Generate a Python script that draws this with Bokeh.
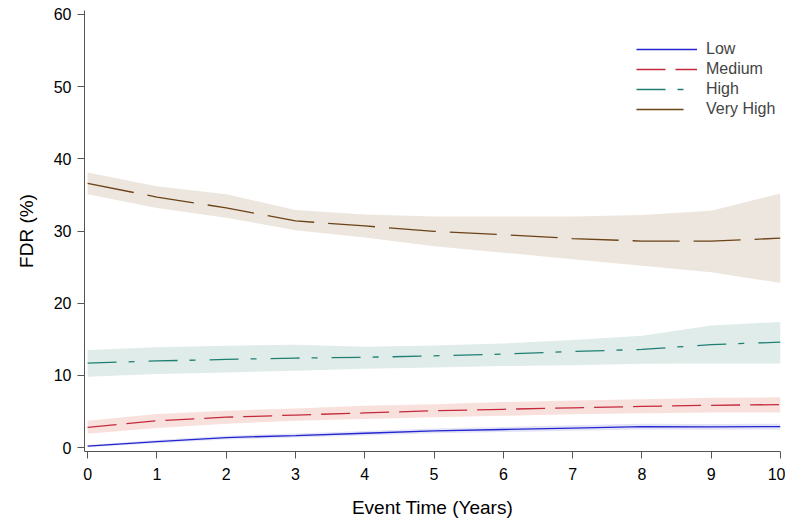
from bokeh.plotting import figure
from bokeh.models import Range1d, Legend, LegendItem, FixedTicker
from bokeh.embed import file_html
from bokeh.resources import INLINE

years = [0, 1, 2, 3, 4, 5, 6, 7, 8, 9, 10]

low = [0.2, 0.83, 1.38, 1.66, 1.98, 2.3, 2.5, 2.7, 2.9, 2.85, 2.9]
low_lo = [0.05, 0.6, 1.12, 1.38, 1.68, 1.98, 2.15, 2.33, 2.5, 2.45, 2.5]
low_hi = [0.35, 1.06, 1.64, 1.94, 2.28, 2.62, 2.85, 3.07, 3.3, 3.25, 3.3]

medium = [2.8, 3.7, 4.2, 4.5, 4.8, 5.1, 5.3, 5.5, 5.7, 5.85, 5.95]
medium_lo = [1.9, 2.7, 3.3, 3.7, 3.97, 4.2, 4.4, 4.6, 4.75, 4.85, 4.85]
medium_hi = [3.7, 4.65, 5.1, 5.4, 5.8, 6.0, 6.3, 6.5, 6.7, 6.9, 6.95]

high = [11.7, 12.0, 12.2, 12.4, 12.5, 12.7, 12.95, 13.3, 13.6, 14.25, 14.6]
high_lo = [9.8, 10.2, 10.4, 10.65, 10.9, 11.1, 11.3, 11.4, 11.6, 11.65, 11.65]
high_hi = [13.5, 13.9, 14.1, 14.25, 13.97, 14.15, 14.4, 14.9, 15.5, 16.9, 17.4]

vhigh = [36.6, 34.7, 33.2, 31.4, 30.7, 29.95, 29.5, 28.95, 28.6, 28.6, 29.0]
vhigh_lo = [35.1, 33.2, 31.85, 30.1, 29.1, 27.9, 27.0, 26.1, 25.2, 24.3, 22.8]
vhigh_hi = [38.1, 36.2, 35.1, 32.9, 32.3, 32.0, 32.0, 32.0, 32.2, 32.8, 35.2]

series_names = ["Low", "Medium", "High", "Very High"]
y_ticks = [0, 10, 20, 30, 40, 50, 60]
x_ticks = years

FONT = "Liberation Sans"

p = figure(width=785, height=521, output_backend="svg", toolbar_location=None,
           x_range=Range1d(-0.045, 10.0), y_range=Range1d(-0.55, 60.55),
           min_border_left=84, min_border_top=10, min_border_right=5, min_border_bottom=70)

p.outline_line_color = None
p.grid.visible = False
p.background_fill_color = "white"

series = [
    (low, low_lo, low_hi, "#2424d0", "#e2e4f6", None),
    (medium, medium_lo, medium_hi, "#c42a3c", "#f8e1dd", "29 10"),
    (high, high_lo, high_hi, "#1f7f72", "#e0ecea", "29 12 6 14"),
    (vhigh, vhigh_lo, vhigh_hi, "#6b4316", "#ede6de", "47 14"),
]

for vals, lo, hi, lc, fc, dash in series:
    p.varea(x=years, y1=lo, y2=hi, fill_color=fc, fill_alpha=1.0)

renderers = []
for vals, lo, hi, lc, fc, dash in series:
    kw = {}
    if dash:
        kw["line_dash"] = dash
    r = p.line(x=years, y=vals, line_color=lc, line_width=1.3, **kw)
    renderers.append(r)

for ax in (p.xaxis[0], p.yaxis[0]):
    ax.axis_line_color = "#555555"
    ax.major_tick_line_color = "#555555"
    ax.major_tick_out = 7
    ax.major_tick_in = 0
    ax.minor_tick_line_color = None
    ax.major_label_text_font = FONT
    ax.major_label_text_font_size = "16px"
    ax.major_label_text_color = "black"
    ax.axis_label_text_font = FONT
    ax.axis_label_text_font_size = "19px"
    ax.axis_label_text_font_style = "normal"
    ax.axis_label_text_color = "black"

p.yaxis[0].ticker = FixedTicker(ticks=y_ticks)
p.xaxis[0].ticker = FixedTicker(ticks=x_ticks)
p.yaxis[0].axis_label = "FDR (%)"
p.xaxis[0].axis_label = "Event Time (Years)"
p.yaxis[0].major_label_standoff = 6
p.yaxis[0].axis_label_standoff = 14
p.xaxis[0].major_label_standoff = 9
p.xaxis[0].axis_label_standoff = 14

legend = Legend(items=[LegendItem(label=n, renderers=[r]) for n, r in zip(series_names, renderers)],
                location=(552, 332))
legend.border_line_color = None
legend.background_fill_alpha = 0
legend.padding = 0
legend.margin = 0
legend.spacing = 0
legend.label_height = 20
legend.glyph_height = 20
legend.glyph_width = 61
legend.label_standoff = 9
legend.label_text_font = FONT
legend.label_text_font_size = "16px"
p.add_layout(legend, "center")

open("out.html", "w").write(file_html(p, INLINE))
